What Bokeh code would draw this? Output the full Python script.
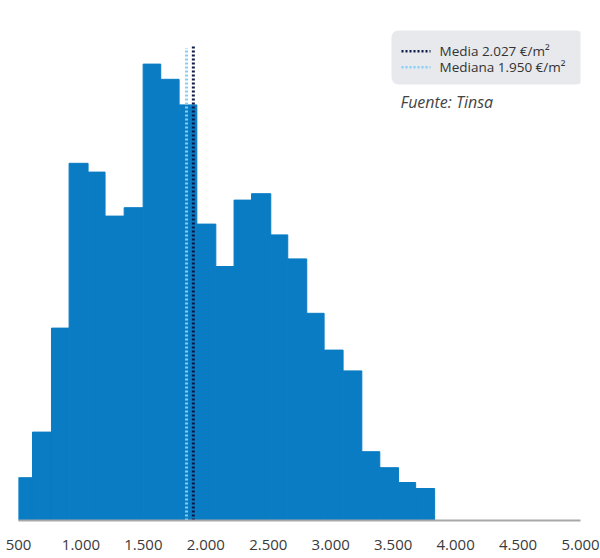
from bokeh.plotting import figure
from bokeh.models import BoxAnnotation, Label, FixedTicker
from bokeh.embed import file_html
from bokeh.resources import INLINE

# ---- data ----
bin_edges = [500, 612, 764, 905, 1057, 1193, 1346, 1498, 1639, 1786, 1928, 2080,
             2226, 2366, 2520, 2656, 2808, 2947, 3099, 3249, 3393, 3543, 3680, 3832]
counts = [10.7, 22.1, 48.1, 89.3, 87.1, 76.1, 78.2, 114.1, 110.3, 103.9, 74.1, 63.5,
          80.1, 81.7, 71.4, 65.4, 51.8, 42.6, 37.4, 17.2, 13.2, 9.5, 8.0]
tick_values = [500, 1000, 1500, 2000, 2500, 3000, 3500, 4000, 4500, 5000]
tick_labels = ["500", "1.000", "1.500", "2.000", "2.500", "3.000", "3.500", "4.000", "4.500", "5.000"]
mean_line_x = 1900      # position of the mean line as drawn
median_line_x = 1845    # position of the median line as drawn
line_top = 118.6
legend_labels = ["Media 2.027 €/m²", "Mediana  1.950 €/m²"]
source_text = "Fuente: Tinsa"

FONT = "Open Sans"
BAR = "#0a7cc4"
MEAN_C = "#0e1a4a"
MED_C = "#86cdf3"

W, H = 600, 558
LB, RB, TB, BB = 18, 20, 0, 38
X0, X1 = 500, 5000
fw = W - LB - RB
fh = H - TB - BB
Y0, Y1 = 0, fh / 4.0

p = figure(width=W, height=H, x_range=(X0, X1), y_range=(Y0, Y1),
           output_backend="svg", toolbar_location=None, tools="",
           y_axis_location=None, min_border_left=LB, min_border_right=RB,
           min_border_top=TB, min_border_bottom=BB)
p.outline_line_color = None
p.grid.visible = False
p.background_fill_color = "white"
p.border_fill_color = "white"

OFF = 0  # page offset of the figure
def dx(px):  # page px -> data x
    return X0 + (px - OFF - LB) * (X1 - X0) / fw
def dy(py):  # page px -> data y
    return Y0 + (OFF + TB + fh - py) * (Y1 - Y0) / fh

p.quad(left=bin_edges[:-1], right=bin_edges[1:], bottom=0, top=counts,
       fill_color=BAR, line_color=BAR, line_width=1)

p.segment(x0=[median_line_x], y0=[0], x1=[median_line_x], y1=[line_top - 0.5],
          line_color=MED_C, line_width=3, line_dash="2 2")
p.segment(x0=[mean_line_x], y0=[0], x1=[mean_line_x], y1=[line_top],
          line_color=MEAN_C, line_width=3, line_dash="2 2")

ax = p.xaxis[0]
ax.ticker = FixedTicker(ticks=tick_values)
ax.major_label_overrides = {v: l for v, l in zip(tick_values, tick_labels)}
ax.axis_line_color = "#a8a8a8"
ax.axis_line_width = 2
ax.major_tick_line_color = None
ax.minor_tick_line_color = None
ax.major_tick_out = 0
ax.major_tick_in = 0
ax.major_label_standoff = 19
ax.major_label_text_font = FONT
ax.major_label_text_font_size = "15px"
ax.major_label_text_color = "#3a3a3a"

# legend box
box = BoxAnnotation(left=dx(391), right=dx(583), top=dy(30), bottom=dy(84),
                    fill_color="#e7e9ec", fill_alpha=1.0, line_color=None,
                    border_radius=7, level="annotation")
p.add_layout(box)

rows_y = [50.7, 66.7]
colors = [MEAN_C, MED_C]
for lab, ry, c in zip(legend_labels, rows_y, colors):
    p.segment(x0=[dx(401)], y0=[dy(ry)], x1=[dx(430)], y1=[dy(ry)],
              line_color=c, line_width=2.5, line_dash="2 2", level="overlay")
    p.add_layout(Label(x=dx(439), y=dy(ry), text=lab, text_font=FONT,
                       text_font_size="13.5px", text_color="#333333",
                       text_baseline="middle", text_align="left"))

p.add_layout(Label(x=dx(400), y=dy(101.5), text=source_text, text_font=FONT,
                   text_font_size="16px", text_font_style="italic",
                   text_color="#444444", text_baseline="middle", text_align="left"))

open("out.html", "w").write(file_html(p, INLINE))
